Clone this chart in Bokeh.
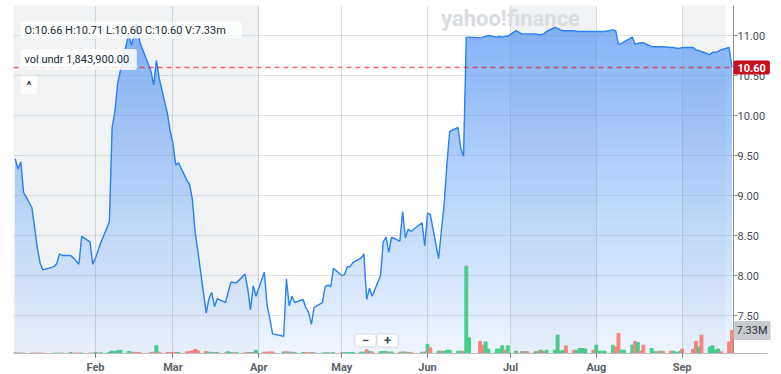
import numpy as np
import pandas as pd
from bokeh.plotting import figure
from bokeh.models import (Range1d, FixedTicker, Span, Label, BoxAnnotation,
                          ColumnDataSource, DatetimeTickFormatter)
from bokeh.core.properties import value
from bokeh.embed import file_html
from bokeh.resources import INLINE

# ---------------- data ----------------
holidays = ["2023-01-16", "2023-02-20", "2023-04-07", "2023-05-29",
            "2023-06-19", "2023-07-04", "2023-09-04"]

close_jan = [9.46, 9.33, 9.42, 9.04, 8.85, 8.60, 8.34, 8.15, 8.07, 8.11,
             8.15, 8.27, 8.25, 8.25, 8.22, 8.18, 8.14, 8.49, 8.42, 8.14]
close_feb = [8.22, 8.32, 8.42, 8.67, 9.85, 10.05, 10.40, 10.56, 11.02, 10.88,
             11.00, 11.15, 10.92, 10.56, 10.38, 10.69, 10.47, 10.02, 9.80]
close_mar = [9.65, 9.38, 9.41, 9.19, 9.14, 8.95, 8.55, 8.30, 7.53, 7.71, 7.79, 7.61,
             7.71, 7.66, 7.80, 7.92, 7.91, 7.91, 8.02, 7.84, 7.57, 7.87, 7.74]
close_apr = [8.04, 7.63, 7.46, 7.27, 7.24, 7.96, 7.62, 7.74, 7.66, 7.70,
             7.60, 7.54, 7.39, 7.60, 7.66, 7.86, 7.88, 7.86, 8.09]
close_may = [8.00, 8.01, 8.11, 8.11, 8.16, 8.22, 8.27, 7.70, 7.84, 7.74, 8.00,
             8.42, 8.48, 8.29, 8.48, 8.43, 8.80, 8.47, 8.58, 8.55, 8.66, 8.37]
close_jun = [8.78, 8.76, 8.21, 8.56, 8.89, 9.39, 9.80, 9.85, 9.59, 9.49, 10.98,
             10.98, 10.97, 10.98, 10.99, 11.00, 10.98, 10.99, 10.98, 10.99, 10.99]
close_jul = [11.06, 11.02, 11.02, 11.02, 11.02, 11.01, 11.01, 11.02, 11.05, 11.10,
             11.09, 11.07, 11.06, 11.06, 11.06, 11.05, 11.05, 11.05, 11.05, 11.05]
close_aug = [11.05, 11.05, 11.05, 11.05, 11.07, 11.06, 10.89, 10.90, 10.92, 10.98,
             10.89, 10.90, 10.91, 10.91, 10.86, 10.86, 10.86, 10.86, 10.86, 10.85,
             10.85, 10.84, 10.84]
close_sep = [10.85, 10.85, 10.82, 10.81, 10.80, 10.76, 10.79, 10.79, 10.80, 10.82,
             10.85, 10.60]

# volume in millions
vol_jan = [0.2, 0.15, 0.15, 0.1, 0.15, 0.1, 0.1, 0.12, 0.1, 0.1,
           0.12, 0.1, 0.1, 0.3, 0.12, 0.1, 0.12, 0.15, 0.12, 0.1]
vol_feb = [0.3, 0.15, 0.2, 0.4, 0.75, 0.6, 0.9, 1.05, 0.65, 0.4,
           0.35, 0.35, 0.3, 0.3, 0.4, 2.45, 0.4, 0.3, 0.3]
vol_mar = [0.35, 0.3, 0.3, 0.5, 0.6, 0.8, 1.3, 0.85, 0.6, 0.4, 0.35, 0.3,
           0.3, 0.2, 0.55, 0.3, 0.2, 0.25, 0.2, 0.25, 0.3, 0.3, 1.0]
vol_apr = [0.4, 0.45, 0.5, 0.5, 0.5, 0.55, 0.45, 0.4, 0.3, 0.3,
           0.25, 0.2, 0.3, 0.2, 0.15, 0.2, 0.2, 0.2, 0.25]
vol_may = [0.25, 0.25, 0.3, 0.3, 0.35, 0.4, 0.45, 1.2, 0.6, 0.5, 0.6,
           0.65, 0.6, 0.45, 0.5, 0.4, 0.5, 0.45, 0.35, 0.35, 0.4, 0.5]
vol_jun = [2.9, 1.8, 0.75, 0.75, 0.65, 1.05, 1.05, 0.75, 0.75, 0.75, 27.8,
           5.0, 3.9, 2.65, 3.7, 1.4, 1.4, 1.4, 2.45, 1.05, 2.45]
vol_jul = [0.75, 0.55, 0.55, 0.55, 0.55, 0.75, 1.05, 0.65, 1.05, 1.05,
           5.85, 0.75, 1.05, 2.45, 1.05, 1.05, 1.6, 1.6, 1.4, 1.05]
vol_aug = [2.65, 0.75, 0.75, 0.75, 2.65, 2.1, 6.4, 1.05, 1.05, 2.65, 3.9, 3.5,
           0.75, 2.65, 1.6, 0.55, 0.55, 0.75, 0.75, 0.75, 0.75, 0.3, 0.65]
vol_sep = [1.4, 1.4, 3.9, 2.1, 5.85, 2.1, 2.45, 1.05, 1.4, 0.55, 3.7, 7.33]

# volume bar direction (g = up, r = down)
dir_jan = "rrgrrrrrrgggrgrrrgrr"
dir_feb = "grggggggggrrrrrgrrr"
dir_mar = "rrgrrrrrrggrgrggrgrrgrg"
dir_apr = "rrrrgrgrggrrrggggrg"
dir_may = "rggggggrgrgggrgrgrgrgr"
dir_jun = "grgrgggggrggrrgggggrg"
dir_jul = "grgrgrgrgggggrrggggr"
dir_aug = "gggggrrgggrgrrggrgrrggg"
dir_sep = "rrrgrggggrrr"

month_ticks = ["2023-02-01", "2023-03-01", "2023-04-01", "2023-05-01",
               "2023-06-01", "2023-07-01", "2023-08-01", "2023-09-01"]
price_ticks = [7.5, 8.0, 8.5, 9.0, 9.5, 10.0, 10.5, 11.0]
shaded_spans = [("2023-01-02", "2023-04-01"), ("2023-07-01", "2023-08-01"),
                ("2023-09-01", "2023-09-16 17:00")]

ohlc_text = "O:10.66  H:10.71  L:10.60  C:10.60  V:7.33m"
vol_undr_text = "vol undr  1,843,900.00"
last_price = 10.60
last_vol_text = "7.33M"

# ---------------- assemble ----------------
days = pd.bdate_range("2023-01-03", "2023-09-19")
days = days[~days.isin(pd.to_datetime(holidays))]
closes = (close_jan + close_feb + close_mar + close_apr + close_may +
          close_jun + close_jul + close_aug + close_sep)
vols = vol_jan + vol_feb + vol_mar + vol_apr + vol_may + vol_jun + vol_jul + vol_aug + vol_sep
dirs = dir_jan + dir_feb + dir_mar + dir_apr + dir_may + dir_jun + dir_jul + dir_aug + dir_sep
n = min(len(days), len(closes), len(vols), len(dirs))
days = days[:n]
closes = np.array(closes[:n])
vols = vols[:n]
dirs = dirs[:n]

GREEN = "#48cf8c"
RED = "#f8877f"
src = ColumnDataSource(dict(date=days, close=closes, vol=vols,
                            color=[GREEN if d == "g" else RED for d in dirs]))

# layout helpers (reference pixel -> data)
JAN2 = pd.Timestamp("2023-01-02")
PX_DAY = 2.767


def x_at(px):
    return (JAN2 + pd.Timedelta(days=(px - 12) / PX_DAY)).value / 1e6


def p_at(py):
    return 11.0 - (py - 35) / 80.0


def ms(s):
    return pd.Timestamp(s).value / 1e6


TOP = 5
FRAME_H = 348
FRAME_L = 13
AXIS_X = 733
y_lo, y_hi = p_at(TOP + FRAME_H), p_at(TOP)
x_start = x_at(FRAME_L)
p = figure(frame_width=781 - FRAME_L, frame_height=FRAME_H, x_axis_type="datetime",
           y_axis_location=None,
           x_range=Range1d(x_start, x_at(781)), y_range=Range1d(y_lo, y_hi),
           output_backend="svg", toolbar_location=None,
           min_border_left=FRAME_L, min_border_right=0, min_border_top=TOP,
           min_border_bottom=0,
           background_fill_color="white", border_fill_color="white",
           outline_line_color=None)
p.extra_y_ranges = {"vol": Range1d(0, FRAME_H * 0.3187)}

# shaded month columns
for a, b in shaded_spans:
    p.add_layout(BoxAnnotation(left=ms(a), right=ms(b), fill_color="#5f6f85",
                               fill_alpha=0.05, line_color=None, level="underlay"))

# gradient area under the price line
levels = np.linspace(y_lo, y_hi, 45)
c_top = np.array([124, 175, 248])
c_bot = np.array([238, 245, 254])
cmax = closes.max()
for i in range(len(levels) - 1, 0, -1):
    if levels[i - 1] > cmax:
        continue
    t = (y_hi - 0.5 * (levels[i] + levels[i - 1])) / (y_hi - y_lo)
    c = (c_top + (c_bot - c_top) * t).round().astype(int)
    col = "#%02x%02x%02x" % tuple(c)
    p.varea(x=days, y1=y_lo, y2=np.minimum(closes, levels[i]),
            fill_color=col, fill_alpha=1.0)

# shading over the fill (slight darkening)
for a, b in shaded_spans:
    p.add_layout(BoxAnnotation(left=ms(a), right=ms(b), fill_color="#3d4f66",
                               fill_alpha=0.035, line_color=None, level="glyph"))

# horizontal grid lines (stop at the price axis)
p.segment(x0=x_start, x1=x_at(AXIS_X), y0=price_ticks, y1=price_ticks,
          line_color="#8893a0", line_alpha=0.25, line_width=1)

# volume
p.vbar(x="date", top="vol", width=86400000 * 1.05, color="color",
       source=src, y_range_name="vol")

# price line
p.line(x="date", y="close", source=src, line_color="#2a82f4", line_width=1.4)

# last price dashed line
p.line(x=[x_start, x_at(AXIS_X)], y=[last_price, last_price],
       line_color="red", line_dash="5 4", line_width=1.5, line_alpha=0.6)

# right price axis (drawn inside the extended frame)
p.add_layout(Span(location=x_at(AXIS_X), dimension="height", line_color="#8d9298",
                  line_width=1))
p.segment(x0=x_at(AXIS_X), x1=x_at(AXIS_X + 4), y0=price_ticks, y1=price_ticks,
          line_color="#8d9298", line_width=1)
p.text(x=x_at(AXIS_X + 4), y=price_ticks, text=["%.2f" % t for t in price_ticks],
       text_font=value("Roboto"), text_font_size=value("11px"),
       text_color="#464e56", text_align="left", text_baseline="middle")

# bottom axis
xax = p.xaxis[0]
xax.ticker = FixedTicker(ticks=[ms(m) for m in month_ticks])
fmt = "%b"
xax.formatter = DatetimeTickFormatter(milliseconds=fmt, seconds=fmt, minsec=fmt,
                                      minutes=fmt, hourmin=fmt, hours=fmt, days=fmt,
                                      months=fmt, years=fmt)
xax.bounds = (x_start, x_at(767))
xax.axis_line_color = "#b9bdc2"
xax.major_tick_line_color = "#6d737a"
xax.major_tick_in = 0
xax.major_tick_out = 4
xax.minor_tick_line_color = None
xax.major_label_text_font = "Roboto"
xax.major_label_text_font_size = "11px"
xax.major_label_text_font_style = "bold"
xax.major_label_text_color = "#5b636a"
xax.major_label_standoff = 3

for g in p.xgrid:
    g.grid_line_color = "#8893a0"
    g.grid_line_alpha = 0.3
    g.level = "glyph"
for g in p.ygrid:
    g.visible = False

# watermark
p.add_layout(Label(x=x_at(510), y=p_at(18), text="yahoo!finance", text_font="Roboto",
                   text_font_size="22px", text_font_style="bold", text_color="#d9dce0",
                   text_align="center", text_baseline="middle"))

# info boxes top-left
p.add_layout(Label(x=x_at(20), y=p_at(29.5), text=ohlc_text, text_font="Roboto",
                   text_font_size="11px", text_color="#232a31", text_align="left",
                   text_baseline="middle", background_fill_color="white",
                   background_fill_alpha=0.8,
                   padding=dict(left=4, right=5, top=2, bottom=2), border_radius=3))
p.add_layout(Label(x=x_at(20), y=p_at(59), text=vol_undr_text, text_font="Roboto",
                   text_font_size="11px", text_color="#232a31", text_align="left",
                   text_baseline="middle", background_fill_color="white",
                   background_fill_alpha=0.85,
                   padding=dict(left=4, right=5, top=4, bottom=4), border_radius=3))
p.add_layout(Label(x=x_at(20), y=p_at(84.5), text="^", text_font="Roboto",
                   text_font_size="11px", text_font_style="bold", text_color="#232a31",
                   text_align="left", text_baseline="middle",
                   background_fill_color="white", background_fill_alpha=0.85,
                   padding=dict(left=6, right=6, top=3, bottom=3), border_radius=3))

# zoom buttons
for px_c, txt in [(365, "\u2212"), (387, "+")]:
    p.add_layout(Label(x=x_at(px_c), y=p_at(340), text=txt, text_font="Roboto",
                       text_font_size="13px", text_font_style="bold",
                       text_color="#464e56", text_align="center", text_baseline="middle",
                       background_fill_color="white", background_fill_alpha=1.0,
                       border_line_color="#d6dade",
                       padding=dict(left=7, right=7, top=2, bottom=2), border_radius=2))

# right-side value tags
p.add_layout(Label(x=x_at(AXIS_X), y=last_price, text="%.2f" % last_price,
                   text_font="Roboto", text_font_size="11px", text_font_style="bold",
                   text_color="white", text_align="left", text_baseline="middle",
                   background_fill_color="#c8111e", background_fill_alpha=1.0,
                   padding=dict(left=4, right=4, top=3, bottom=3), border_radius=2))
p.add_layout(Label(x=x_at(AXIS_X), y=vols[-1], y_range_name="vol", text=last_vol_text,
                   text_font="Roboto", text_font_size="11px", text_color="#2b3238",
                   text_align="left", text_baseline="middle",
                   background_fill_color="#c7cbd0", background_fill_alpha=1.0,
                   padding=dict(left=3, right=3, top=3, bottom=3), border_radius=1))

open("out.html", "w").write(file_html(p, INLINE))
